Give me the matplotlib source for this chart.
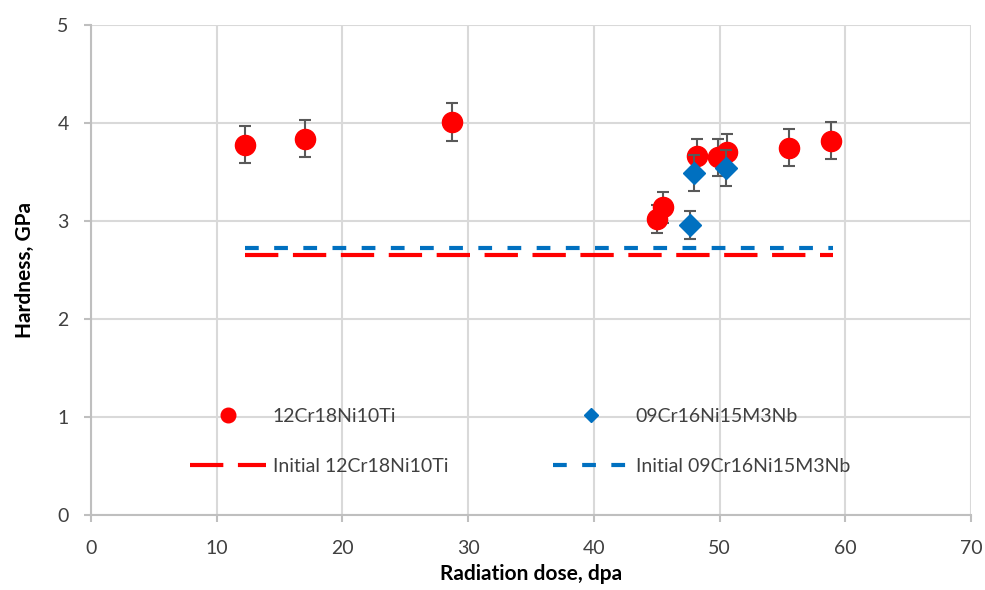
import matplotlib
matplotlib.use("Agg")
import matplotlib.pyplot as plt
from matplotlib.lines import Line2D
import numpy as np

plt.rcParams['font.family'] = ['Lato', 'DejaVu Sans']

# Data
dose_ti = [12.25, 17.0, 28.7, 45.0, 45.5, 48.2, 49.9, 50.6, 55.5, 58.9]
hard_ti = [3.78, 3.84, 4.01, 3.02, 3.14, 3.66, 3.65, 3.70, 3.75, 3.82]
err_ti = [0.19, 0.19, 0.19, 0.14, 0.16, 0.18, 0.19, 0.19, 0.19, 0.19]

dose_nb = [47.65, 48.0, 50.5]
hard_nb = [2.96, 3.49, 3.54]
err_nb = [0.14, 0.18, 0.18]

init_x = [12.25, 59.0]
init_ti = [2.65, 2.65]
init_nb = [2.73, 2.73]

labels = ['12Cr18Ni10Ti', 'Initial 12Cr18Ni10Ti', '09Cr16Ni15M3Nb', 'Initial 09Cr16Ni15M3Nb']

red = '#FF0000'
blue = '#0070C0'
gray = '#595959'

fig = plt.figure(figsize=(9.85, 5.9), dpi=100)
ax = fig.add_axes([0.0924, 0.127, 0.8934, 0.8306])

ax.errorbar(dose_ti, hard_ti, yerr=err_ti, fmt='o', color=red, ms=14.5,
            ecolor=gray, elinewidth=1.5, capsize=4, capthick=1.5, zorder=3)
ax.errorbar(dose_nb, hard_nb, yerr=err_nb, fmt='D', color=blue, ms=11,
            ecolor=gray, elinewidth=1.5, capsize=4, capthick=1.5, zorder=4)
ln_ti, = ax.plot(init_x, init_ti, color=red, lw=3, dashes=(8, 3.5), zorder=2)
ln_nb, = ax.plot(init_x, init_nb, color=blue, lw=3, dashes=(3.3, 3.7), zorder=2)

ax.set_xlim(0, 70)
ax.set_ylim(0, 5)
ax.set_xticks(np.arange(0, 71, 10))
ax.set_yticks(np.arange(0, 6, 1))
ax.grid(True, color='#D9D9D9', lw=1.5)
ax.set_axisbelow(True)
for s in ['top', 'right']:
    ax.spines[s].set_visible(False)
for s in ['left', 'bottom']:
    ax.spines[s].set_color('#BFBFBF')
    ax.spines[s].set_linewidth(1.5)
ax.tick_params(axis='both', colors='#BFBFBF', length=5, width=1.5,
               labelcolor='#404040', labelsize=14)
ax.tick_params(axis='x', pad=13)
ax.tick_params(axis='y', pad=11)

ax.set_xlabel('Radiation dose, dpa', fontsize=15, fontweight='bold', color='black', labelpad=5)
ax.set_ylabel('Hardness, GPa', fontsize=15, fontweight='bold', color='black', labelpad=16)

h_ti = Line2D([], [], ls='none', marker='o', ms=10.5, color=red)
h_nb = Line2D([], [], ls='none', marker='D', ms=7.5, color=blue)
leg = ax.legend([h_ti, ln_ti, h_nb, ln_nb], labels, ncol=2,
                loc='upper left', bbox_to_anchor=(0.1125, 0.218), frameon=False,
                fontsize=14, handlelength=3.9, columnspacing=5.4,
                labelspacing=1.7, handletextpad=0.35, borderpad=0, borderaxespad=0)
for t in leg.get_texts():
    t.set_color('#404040')

fig.savefig('out.png', dpi=100)
